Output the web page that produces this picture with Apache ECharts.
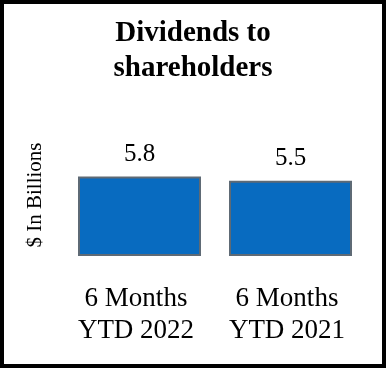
<!DOCTYPE html>
<html>
<head>
<meta charset="utf-8">
<script src="https://cdn.jsdelivr.net/npm/echarts@6/dist/echarts.min.js"></script>
<style>
html,body{margin:0;padding:0;background:#fff;}
#c{width:386px;height:368px;}
</style>
</head>
<body>
<div id="c"></div>
<script>
const categories = ['6 Months\nYTD 2022', '6 Months\nYTD 2021'];
const dividends = [5.8, 5.5];
const titleText = 'Dividends to\nshareholders';
const yAxisName = '$ In Billions';

const FONT = "'Liberation Serif','Times New Roman',serif";
const chart = echarts.init(document.getElementById('c'), null, {renderer: 'canvas'});
chart.setOption({
  animation: false,
  backgroundColor: '#fff',
  title: {
    text: titleText,
    left: 'center',
    top: 11,
    textStyle: {fontFamily: FONT, fontSize: 29, fontWeight: 'bold', color: '#000', lineHeight: 35}
  },
  grid: {left: 64, right: 20, top: 119, bottom: 112},
  xAxis: {
    type: 'category',
    data: categories,
    axisLine: {show: false},
    axisTick: {show: false},
    axisLabel: {fontFamily: FONT, fontSize: 27, lineHeight: 32, color: '#000', margin: 27, interval: 0, padding: [0, 7, 0, 0]}
  },
  yAxis: {
    type: 'value',
    min: 0,
    max: 10,
    name: yAxisName,
    nameLocation: 'middle',
    nameGap: 18,
    nameTextStyle: {fontFamily: FONT, fontSize: 21, color: '#000', padding: [0, 15, 0, 0]},
    axisLine: {show: false},
    axisTick: {show: false},
    axisLabel: {show: false},
    splitLine: {show: false}
  },
  series: [{
    type: 'bar',
    data: dividends,
    barWidth: 123,
    itemStyle: {color: '#086BC0', borderColor: '#5E6A75', borderWidth: 2},
    label: {
      show: true,
      position: 'top',
      distance: 10,
      fontFamily: FONT,
      fontSize: 25,
      color: '#000'
    }
  }],
  graphic: [{
    type: 'rect',
    shape: {x: 2, y: 2, width: 382, height: 364},
    style: {fill: null, stroke: '#000', lineWidth: 4},
    silent: true
  }]
});
</script>
</body>
</html>
